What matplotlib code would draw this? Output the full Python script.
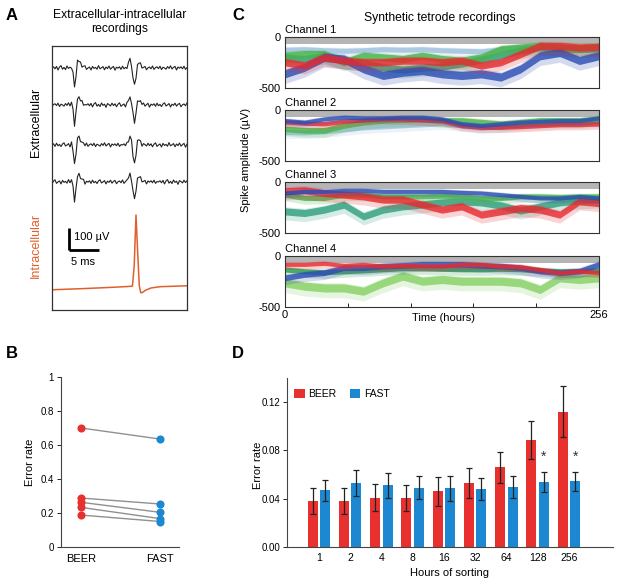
import numpy as np
import matplotlib
matplotlib.use("Agg")
import matplotlib.pyplot as plt

plt.rcParams['font.family'] = ['Liberation Sans', 'DejaVu Sans']

# ---------------- Panel A data ----------------
dt_ms = 0.25
noise = [0, 6, -4, 8, -10, 5, 12, -6, 3, -8,
         10, -2, 4, -12, 7, 2, -5, 9, -3, 6,
         -9, 4, 11, -7, 0, 5, -10, 8, -2, 3,
         -6, 12, -4, 1, 7, -9, 5, -3, 10, -6,
         2, 8, -11, 4, -1, 6, -7, 9, -4, 3,
         -8, 5, 11, -5, 0, 7, -10, 4, -2, 9,
         -6, 3, 8, -9, 1, 5, -4, 10, -7, 2,
         6, -3, 9, -8, 4, 0, -6, 7, -2, 11,
         -5, 3, 8, -10, 5, -1, 6, -4, 9, -7, 2]
spike1 = [0, 10, -25, -88, -35, 28, 32, 22, 12, 5, 0]
spike2 = [5, 22, 34, 12, -45, -80, -38, 12, 24, 15, 5]
spike1_start = 12
spike2_start = 50
extra_baselines = [1100, 932, 750, 582]
extra_noise_shift = [0, 23, 47, 71]
extra_scale = [1.0, 1.0, 1.05, 0.95]
intra_t = [0, 5, 10, 13.4, 13.7, 14.0, 14.3, 14.55, 14.8, 15.1, 15.6, 16.5, 18, 22.5]
intra_v = [92, 97, 103, 108, 200, 432, 250, 110, 78, 80, 90, 100, 106, 110]

# ---------------- Panel B data ----------------
b_groups = ['BEER', 'FAST']
b_beer = [0.70, 0.288, 0.263, 0.233, 0.188]
b_fast = [0.635, 0.253, 0.204, 0.167, 0.150]

# ---------------- Panel C data ----------------
t_hours = [0, 16, 32, 48, 64, 80, 96, 112, 128, 144, 160, 176, 192, 208, 224, 240, 256]
ch1_pale = [-125, -120, -130, -135, -130, -120, -125, -120, -130, -135, -140, -120, -100, -90, -95, -110, -120]
ch1_teal = [-200, -220, -180, -230, -250, -300, -320, -300, -290, -260, -220, -180, -130, -100, -110, -120, -110]
ch1_green = [-184, -168, -168, -248, -184, -200, -216, -184, -216, -232, -200, -120, -103, -87, -103, -103, -97]
ch1_blue = [-361, -297, -200, -216, -313, -377, -345, -329, -361, -377, -361, -393, -313, -184, -152, -230, -184]
ch1_red = [-248, -280, -200, -232, -248, -248, -232, -232, -248, -232, -280, -248, -168, -87, -87, -103, -97]

ch2_pale = [-216, -220, -210, -190, -170, -160, -150, -140, -130, -150, -170, -160, -140, -130, -120, -120, -110]
ch2_green = [-184, -200, -200, -152, -119, -103, -97, -87, -103, -103, -119, -135, -119, -103, -103, -103, -87]
ch2_red = [-119, -129, -135, -110, -97, -87, -87, -97, -103, -152, -168, -168, -161, -152, -142, -142, -135]
ch2_blue = [-103, -119, -87, -71, -77, -77, -71, -71, -87, -135, -152, -135, -119, -110, -103, -103, -77]

ch3_teal = [-288, -304, -271, -222, -337, -271, -239, -220, -200, -190, -200, -230, -280, -240, -200, -180, -170]
ch3_green = [-124, -157, -157, -124, -124, -141, -141, -141, -134, -141, -157, -157, -141, -141, -147, -141, -141]
ch3_red = [-92, -82, -108, -124, -141, -173, -173, -222, -271, -239, -320, -288, -255, -271, -320, -190, -206]
ch3_blue = [-108, -92, -92, -82, -82, -92, -92, -92, -92, -101, -108, -124, -141, -157, -157, -141, -157]

ch4_lgreen = [-263, -296, -313, -313, -345, -263, -197, -247, -230, -247, -247, -247, -263, -329, -214, -230, -214]
ch4_dgreen = [-132, -150, -160, -150, -140, -130, -120, -120, -125, -130, -130, -125, -130, -140, -150, -150, -140]
ch4_blue = [-214, -181, -164, -115, -115, -99, -92, -82, -82, -82, -92, -99, -115, -148, -164, -148, -82]
ch4_red = [-82, -82, -72, -92, -82, -99, -92, -99, -99, -82, -82, -99, -105, -132, -164, -148, -164]

# ---------------- Panel D data ----------------
d_hours = ['1', '2', '4', '8', '16', '32', '64', '128', '256']
d_beer = [0.038, 0.038, 0.041, 0.0405, 0.046, 0.053, 0.066, 0.0885, 0.112]
d_beer_err = [0.011, 0.0107, 0.011, 0.011, 0.012, 0.0127, 0.013, 0.0157, 0.021]
d_fast = [0.047, 0.053, 0.051, 0.049, 0.0485, 0.048, 0.050, 0.054, 0.0545]
d_fast_err = [0.0085, 0.0107, 0.010, 0.0095, 0.0104, 0.0093, 0.009, 0.0085, 0.0077]
d_star_groups = ['128', '256']
d_star_y = [0.075, 0.075]

RED = '#e8302e'
BLUE = '#1c88d2'
CBLUE = '#2b4db3'
CRED = '#e8292e'
CGREEN = '#47b34a'
CTEAL = '#2e9e7e'
CPALE = '#9cc0dc'
CLGREEN = '#86d064'
CDGREEN = '#2a9a4a'
ORANGE = '#e0602c'

W, H = 617, 585
fig = plt.figure(figsize=(W / 100, H / 100), dpi=100)


def fx(px):
    return px / W


def fy(py):
    return 1 - py / H


# ================= Panel A =================
axA = fig.add_axes([fx(52), fy(310), fx(135), 264 / H])
axA.set_xlim(0, 22.5)
axA.set_ylim(0, 1200)
t_a = np.arange(len(noise)) * dt_ms
noise_arr = np.array(noise, dtype=float)
for base, shift, sc in zip(extra_baselines, extra_noise_shift, extra_scale):
    tr = np.roll(noise_arr, shift) * 0.9
    tr[spike1_start:spike1_start + len(spike1)] += np.array(spike1) * sc
    tr[spike2_start:spike2_start + len(spike2)] += np.array(spike2) * sc
    axA.plot(t_a, base + tr, color='#222222', lw=0.8)
axA.plot(intra_t, intra_v, color=ORANGE, lw=1.1)
axA.plot([2.83, 2.83], [373, 273], color='black', lw=2, solid_capstyle='butt')
axA.plot([2.75, 7.83], [273, 273], color='black', lw=2, solid_capstyle='butt')
axA.text(3.6, 330, '100 µV', fontsize=8, va='center', ha='left')
axA.text(3.2, 218, '5 ms', fontsize=8, va='center', ha='left')
axA.set_xticks([])
axA.set_yticks([])
for s in axA.spines.values():
    s.set_linewidth(0.9)
    s.set_color('#333333')

fig.text(fx(120), fy(22), 'Extracellular-intracellular\nrecordings', ha='center',
         va='center', fontsize=8.7, linespacing=1.25)
fig.text(fx(36), fy(122), 'Extracellular', rotation=90, ha='center', va='center', fontsize=9)
fig.text(fx(36), fy(245), 'Intracellular', rotation=90, ha='center', va='center',
         fontsize=9, color=ORANGE)
fig.text(fx(12), fy(16), 'A', fontsize=12, fontweight='bold', ha='center', va='center')

# ================= Panel C =================
ch_bottoms = [88, 161, 233, 307]
ch_series = [
    [(ch1_pale, CPALE, 25), (ch1_teal, CTEAL, 35), (ch1_green, CGREEN, 35),
     (ch1_blue, CBLUE, 40), (ch1_red, CRED, 35)],
    [(ch2_pale, CPALE, 25), (ch2_green, CGREEN, 28), (ch2_red, CRED, 22), (ch2_blue, CBLUE, 20)],
    [(ch3_teal, CTEAL, 35), (ch3_green, CGREEN, 25), (ch3_red, CRED, 35), (ch3_blue, CBLUE, 20)],
    [(ch4_lgreen, CLGREEN, 40), (ch4_dgreen, CDGREEN, 25), (ch4_blue, CBLUE, 28), (ch4_red, CRED, 20)],
]
for i, (bot, series) in enumerate(zip(ch_bottoms, ch_series)):
    ax = fig.add_axes([fx(285), fy(bot), fx(314), 51 / H])
    ax.set_xlim(0, 256)
    ax.set_ylim(-500, 0)
    ax.axhspan(-65, 0, color='#b5b5b5', lw=0, zorder=0)
    for vals, col, hw in series:
        v = np.array(vals, dtype=float)
        ax.fill_between(t_hours, v - 2.4 * hw, v + 1.3 * hw, color=col, alpha=0.2, lw=0)
        ax.fill_between(t_hours, v - hw, v + hw, color=col, alpha=0.8, lw=0)
    ax.set_yticks([0, -500])
    ax.set_yticklabels(['0', '-500'], fontsize=8)
    ax.tick_params(axis='y', length=0, pad=3)
    if i == 3:
        ax.set_xticks(np.linspace(0, 256, 6))
        ax.set_xticklabels(['0', '', '', '', '', '256'], fontsize=8)
        ax.tick_params(axis='x', direction='in', length=3, width=0.6, pad=2)
    else:
        ax.set_xticks([])
    for s in ax.spines.values():
        s.set_linewidth(0.8)
        s.set_color('#333333')
    ax.text(0, 1.03, 'Channel %d' % (i + 1), transform=ax.transAxes, ha='left',
            va='bottom', fontsize=8)

fig.text(fx(440), fy(18), 'Synthetic tetrode recordings', ha='center', va='center', fontsize=8.7)
fig.text(fx(443), fy(318), 'Time (hours)', ha='center', va='center', fontsize=8)
fig.text(fx(246), fy(160), 'Spike amplitude (µV)', rotation=90, ha='center', va='center',
         fontsize=8)
fig.text(fx(238), fy(16), 'C', fontsize=12, fontweight='bold', ha='center', va='center')

# ================= Panel B =================
axB = fig.add_axes([fx(61), fy(547), fx(118), 170 / H])
axB.set_xlim(-0.253, 1.24)
axB.set_ylim(0, 1)
for yb, yf in zip(b_beer, b_fast):
    axB.plot([0, 1], [yb, yf], color='#909090', lw=1.0, zorder=1)
axB.scatter([0] * len(b_beer), b_beer, s=34, color=RED, zorder=3, lw=0)
axB.scatter([1] * len(b_fast), b_fast, s=34, color=BLUE, zorder=3, lw=0)
axB.set_yticks([0, 0.2, 0.4, 0.6, 0.8, 1.0])
axB.set_yticklabels(['0', '0.2', '0.4', '0.6', '0.8', '1'], fontsize=7)
axB.set_xticks([0, 1])
axB.set_xticklabels(b_groups, fontsize=8)
axB.tick_params(axis='y', length=3, width=0.6, pad=2)
axB.tick_params(axis='x', length=0, pad=5)
for side in ['top', 'right']:
    axB.spines[side].set_visible(False)
for side in ['left', 'bottom']:
    axB.spines[side].set_linewidth(0.8)
    axB.spines[side].set_color('#444444')
fig.text(fx(30), fy(462), 'Error rate', rotation=90, ha='center', va='center', fontsize=8)
fig.text(fx(12), fy(353), 'B', fontsize=12, fontweight='bold', ha='center', va='center')

# ================= Panel D =================
axD = fig.add_axes([fx(287), fy(547), fx(326), 169 / H])
xd = np.arange(len(d_hours))
ekw = dict(ecolor='#222222', elinewidth=0.9, capsize=2.5, capthick=0.9)
axD.bar(xd - 0.2, d_beer, width=0.32, color=RED, yerr=d_beer_err, error_kw=ekw, label='BEER')
axD.bar(xd + 0.2, d_fast, width=0.32, color=BLUE, yerr=d_fast_err, error_kw=ekw, label='FAST')
for g, ys in zip(d_star_groups, d_star_y):
    axD.text(d_hours.index(g) + 0.2, ys, '*', ha='center', va='center', fontsize=10,
             color='#333333')
axD.set_xlim(-1.024, 9.41)
axD.set_ylim(0, 0.14)
axD.set_yticks([0, 0.04, 0.08, 0.12])
axD.set_yticklabels(['0.00', '0.04', '0.08', '0.12'], fontsize=7)
axD.set_xticks(xd)
axD.set_xticklabels(d_hours, fontsize=7.5)
axD.tick_params(axis='y', length=3, width=0.6, pad=2)
axD.tick_params(axis='x', length=0, pad=4)
for side in ['top', 'right']:
    axD.spines[side].set_visible(False)
for side in ['left', 'bottom']:
    axD.spines[side].set_linewidth(0.8)
    axD.spines[side].set_color('#444444')
axD.set_xlabel('Hours of sorting', fontsize=8, labelpad=4)
axD.legend(loc='upper left', bbox_to_anchor=(0.0, 0.98), ncol=2, frameon=False,
           fontsize=7.5, handlelength=1.0, handleheight=1.0, handletextpad=0.35,
           columnspacing=1.3, borderaxespad=0.3)
fig.text(fx(258), fy(465), 'Error rate', rotation=90, ha='center', va='center', fontsize=8)
fig.text(fx(238), fy(353), 'D', fontsize=12, fontweight='bold', ha='center', va='center')

fig.savefig('out.png', dpi=100)
